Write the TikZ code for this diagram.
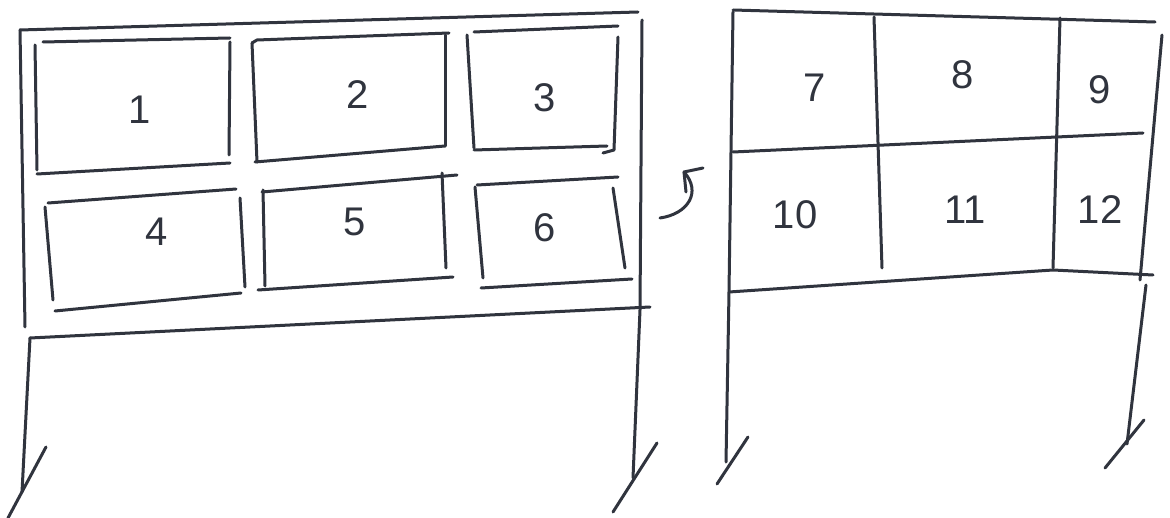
\documentclass[tikz,border=0pt]{standalone}
\usepackage{fontspec}
\setmainfont{Liberation Sans}
\definecolor{pen}{RGB}{48,52,62}
\tikzset{
  stroke/.style={draw=pen, line width=3pt, line cap=round, line join=round},
  num/.style={text=pen, font=\fontsize{40}{44}\selectfont, inner sep=0pt}
}
\begin{document}
\begin{tikzpicture}[x=1pt,y=-1pt]
\useasboundingbox[fill=white] (0,0) rectangle (1170,518);
% ---------- left panel ----------
% outer frame
\draw[stroke] (20,30) -- (638,12);
\draw[stroke] (20,30) -- (25,327);
\draw[stroke] (642,20) -- (640,310) -- (633,478);
\draw[stroke] (30,338) -- (650,307);
% left leg
\draw[stroke] (30,338) -- (22,492);
\draw[stroke] (8,518) -- (46,447);
% right leg slash
\draw[stroke] (613,512) -- (657,443);
% box 1
\draw[stroke] (43,42) -- (230,38);
\draw[stroke] (35,45) -- (37,170);
\draw[stroke] (230,42) -- (229,155);
\draw[stroke] (37,174) -- (230,163);
% box 2
\draw[stroke] (252,43) -- (257,40) -- (449,33);
\draw[stroke] (252,43) -- (257,162);
\draw[stroke] (445,35) -- (445,146);
\draw[stroke] (255,162) -- (445,146);
% box 3
\draw[stroke] (467,35) -- (474,148);
\draw[stroke] (474,32) -- (618,26);
\draw[stroke] (618,37) -- (614,150) -- (603,153);
\draw[stroke] (474,150) -- (607,146);
% box 4
\draw[stroke] (48,203) -- (236,189);
\draw[stroke] (45,207) -- (53,300);
\draw[stroke] (240,198) -- (245,287);
\draw[stroke] (55,311) -- (241,293);
% box 5
\draw[stroke] (262,192) -- (457,175);
\draw[stroke] (263,190) -- (265,286);
\draw[stroke] (442,173) -- (446,268);
\draw[stroke] (258,290) -- (453,277);
% box 6
\draw[stroke] (477,185) -- (618,177);
\draw[stroke] (475,187) -- (483,278);
\draw[stroke] (613,188) -- (625,268);
\draw[stroke] (481,288) -- (632,279);
% numbers
\node[num] (n1) at (140,110) {1};
\node[num] (n2) at (358,95) {2};
\node[num] (n3) at (545,98) {3};
\node[num] (n4) at (157,232) {4};
\node[num] (n5) at (355,222) {5};
\node[num] (n6) at (545,228) {6};
% ---------- rotate arrow ----------
\draw[stroke] (660,218) .. controls (688,214) and (702,192) .. (684,172);
\draw[stroke] (684,172) -- (703,168);
\draw[stroke] (684,172) -- (686,192);
% ---------- right panel ----------
\draw[stroke] (733,10) -- (1155,22);
\draw[stroke] (733,12) -- (729,292) -- (726,462);
\draw[stroke] (717,484) -- (748,437);
\draw[stroke] (874,17) -- (882,268);
\draw[stroke] (1060,18) -- (1053,268);
\draw[stroke] (1162,35) -- (1140,280);
\draw[stroke] (733,152) -- (1143,133);
\draw[stroke] (729,292) -- (1053,270) -- (1153,275);
\draw[stroke] (1146,285) -- (1127,444);
\draw[stroke] (1105,468) -- (1144,420);
% numbers
\node[num] (n7) at (815,88) {7};
\node[num] (n8) at (963,75) {8};
\node[num] (n9) at (1100,90) {9};
\node[num] (n10) at (795,215) {10};
\node[num] (n11) at (965,210) {11};
\node[num] (n12) at (1100,210) {12};
\end{tikzpicture}
\end{document}
